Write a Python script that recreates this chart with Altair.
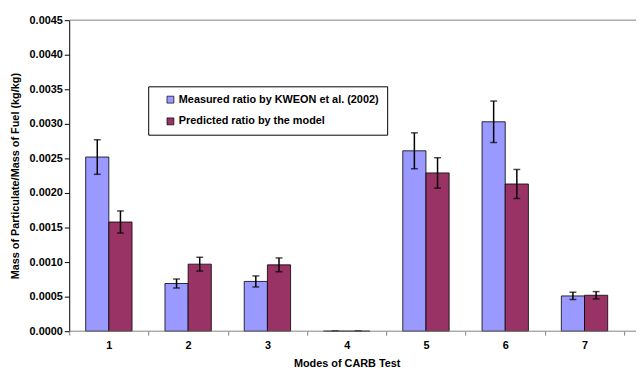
import altair as alt
import pandas as pd

modes = ["1", "2", "3", "4", "5", "6", "7"]
series_names = ["Measured ratio by KWEON et al. (2002)", "Predicted ratio by the model"]
measured = [0.00252, 0.00069, 0.00072, 0.0, 0.00261, 0.00303, 0.00051]
measured_err = [0.00025, 0.000065, 0.00008, 0.0, 0.00026, 0.00030, 0.000053]
predicted = [0.00158, 0.00097, 0.00096, 0.0, 0.00229, 0.00213, 0.00052]
predicted_err = [0.00016, 0.00010, 0.00010, 0.0, 0.00022, 0.00021, 0.000053]
y_ticks = [0.0, 0.0005, 0.001, 0.0015, 0.002, 0.0025, 0.003, 0.0035, 0.004, 0.0045]

rows = []
for i, m in enumerate(modes):
    rows.append({"mode": m, "series": series_names[0], "value": measured[i],
                 "lo": measured[i] - measured_err[i], "hi": measured[i] + measured_err[i]})
    rows.append({"mode": m, "series": series_names[1], "value": predicted[i],
                 "lo": predicted[i] - predicted_err[i], "hi": predicted[i] + predicted_err[i]})
df = pd.DataFrame(rows)

FONT = "Liberation Sans"

x_axis = alt.Axis(labelAngle=0, tickBand="extent", domain=False,
                  tickColor="#808080", tickSize=4, labelPadding=5, titlePadding=7)
x_scale = alt.Scale(paddingInner=0, paddingOuter=0)
x_enc = alt.X("mode:N", sort=modes, title="Modes of CARB Test", scale=x_scale, axis=x_axis)
xoff = alt.XOffset("series:N", sort=series_names,
                   scale=alt.Scale(paddingInner=0, paddingOuter=0.71))
y_scale = alt.Scale(domain=[0, 0.0045], nice=False)
y_axis = alt.Axis(values=y_ticks, format=".4f", grid=False, labelOverlap=False,
                  domainColor="black", tickColor="black", tickSize=5,
                  labelPadding=2, titlePadding=9)
Y_TITLE = "Mass of Particulate/Mass of Fuel (kg/kg)"

base = alt.Chart(df)

bars = base.mark_bar(stroke="black", strokeWidth=0.8).encode(
    x=x_enc,
    xOffset=xoff,
    y=alt.Y("value:Q", scale=y_scale, title=Y_TITLE, axis=y_axis),
    color=alt.Color("series:N", sort=series_names,
                    scale=alt.Scale(domain=series_names, range=["#9999FF", "#993366"]),
                    legend=alt.Legend(orient="none", legendX=80, legendY=67, title=None,
                                      symbolType="square", symbolSize=49,
                                      symbolStrokeColor="black", symbolStrokeWidth=0.7,
                                      labelFont=FONT, labelFontSize=11,
                                      labelFontWeight="bold", labelColor="black",
                                      labelLimit=400,
                                      labelOffset=3, padding=8, rowPadding=10,
                                      symbolOffset=9, strokeColor="black",
                                      fillColor="white")),
)

err = base.mark_rule(color="black", strokeWidth=1.5).encode(
    x=x_enc, xOffset=xoff,
    y=alt.Y("lo:Q", scale=y_scale, title=Y_TITLE, axis=y_axis), y2="hi:Q",
)
cap_hi = base.mark_tick(color="black", thickness=1.5, size=7, orient="horizontal").encode(
    x=x_enc, xOffset=xoff, y=alt.Y("hi:Q", scale=y_scale, title=Y_TITLE, axis=y_axis),
)
cap_lo = base.mark_tick(color="black", thickness=1.5, size=7, orient="horizontal").encode(
    x=x_enc, xOffset=xoff, y=alt.Y("lo:Q", scale=y_scale, title=Y_TITLE, axis=y_axis),
)

frame_df = pd.DataFrame({"k": [0]})
top_line = alt.Chart(frame_df).mark_rule(color="#808080", strokeWidth=1).encode(
    x=alt.value(0), x2=alt.value(574), y=alt.value(0))
bottom_line = alt.Chart(frame_df).mark_rule(color="#808080", strokeWidth=1).encode(
    x=alt.value(0), x2=alt.value(574), y=alt.value(315))

chart = alt.layer(bars, err, cap_hi, cap_lo, top_line, bottom_line).properties(
    width=562, height=315,
    autosize=alt.AutoSizeParams(type="none"),
    padding={"left": 62, "top": 10, "right": 12, "bottom": 39},
).configure_view(stroke=None).configure_axis(
    labelFont=FONT, labelFontSize=11, labelFontWeight="bold", labelColor="black",
    titleFont=FONT, titleFontSize=11, titleFontWeight="bold", titleColor="black",
)

chart.save("out.html", embed_options={"renderer": "svg", "actions": False})
